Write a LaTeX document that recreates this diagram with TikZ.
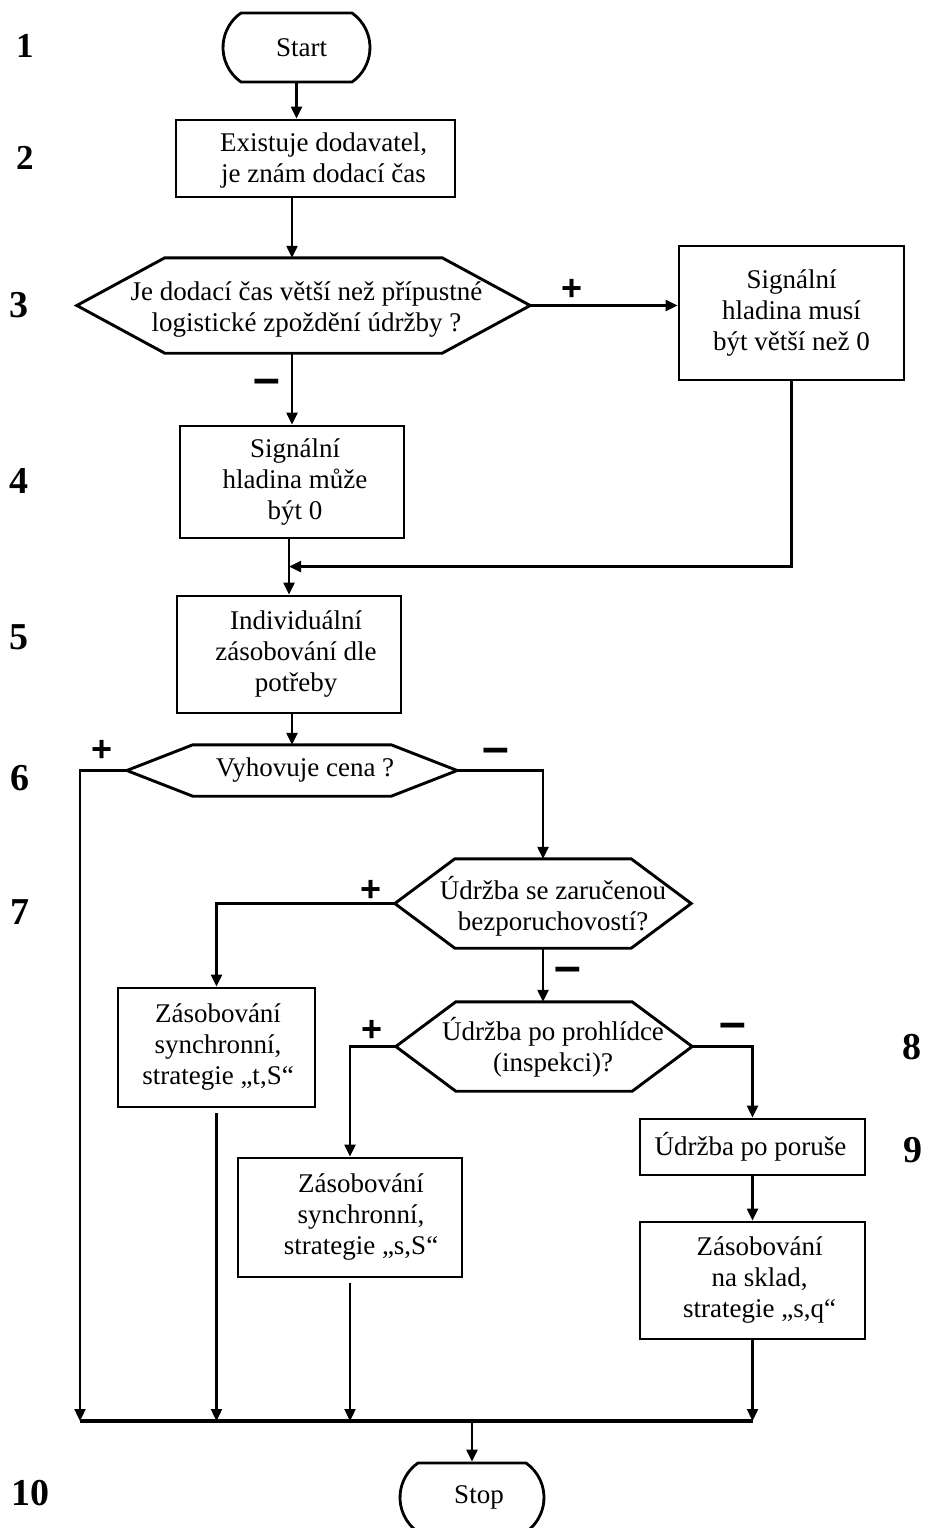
\documentclass[tikz,border=0pt]{standalone}
\usepackage{fontspec}
\setmainfont{Liberation Serif}
\newfontfamily\sansf{Liberation Sans}
\usetikzlibrary{arrows.meta,shapes.misc,calc}
\newcommand\ml[1]{\begin{tabular}{@{}c@{}}#1\end{tabular}}
\newcommand\hexdraw[2]{\draw[hexline] (#1.west) -- ([xshift=#2pt]#1.north west) -- ([xshift=-#2pt]#1.north east) -- (#1.east) -- ([xshift=-#2pt]#1.south east) -- ([xshift=#2pt]#1.south west) -- cycle;}
\begin{document}
\begin{tikzpicture}[x=1pt,y=-1pt,
  box/.style={draw, line width=2.9pt, inner sep=0pt, rectangle},
  term/.style={draw, line width=2.8pt, inner sep=0pt, rounded rectangle, rounded rectangle arc length=110},
  hexbase/.style={inner sep=0pt, rectangle},
  txt/.style={font=\fontsize{27}{31}\selectfont, inner sep=0pt},
  conn/.style={line width=2.3pt, -{Triangle[length=12pt,width=11pt]}},
  busline/.style={line width=3.5pt},
  num/.style={font=\fontsize{38}{38}\selectfont\bfseries, inner sep=0pt},
  numsm/.style={font=\fontsize{35}{35}\selectfont\bfseries, inner sep=0pt},
  pm/.style={font=\sansf\bfseries\fontsize{36}{36}\selectfont, inner sep=0pt, anchor=base},
  mn/.style={font=\sansf\bfseries\fontsize{48}{48}\selectfont, inner sep=0pt, anchor=base},
  hexline/.style={line width=2.9pt, line join=miter}
]
\useasboundingbox (0,0) rectangle (926,1528);

% row numbers
\node[numsm] (n1) at (25,46) {1};
\node[numsm] (n2) at (25,158) {2};
\node[num] (n3) at (19,305) {3};
\node[num] (n4) at (19,481) {4};
\node[num] (n5) at (19,637) {5};
\node[num] (n6) at (20,778) {6};
\node[num] (n7) at (20,912) {7};
\node[num] (n8) at (912,1047) {8};
\node[num] (n9) at (913,1150) {9};
\node[num] (n10) at (31,1493) {10};

% shapes
\node[term, minimum width=147pt, minimum height=69pt,
  label={[txt,xshift=5pt]center:Start}] (start) at (296.5,47.5) {};
\node[box, minimum width=279pt, minimum height=77pt,
  label={[txt,xshift=8pt,yshift=-2pt]center:{\ml{Existuje dodavatel,\\je znám dodací čas}}}] (b2) at (315.5,158.5) {};
\node[hexbase, minimum width=453pt, minimum height=95pt,
  label={[txt,xshift=3pt,yshift=-4pt]center:{\ml{Je dodací čas větší než přípustné\\logistické zpoždění údržby ?}}}] (d3) at (303.5,305.5) {};
\hexdraw{d3}{88}
\node[box, minimum width=225pt, minimum height=134pt,
  label={[txt]center:{\ml{Signální\\hladina musí\\být větší než 0}}}] (b3r) at (791.5,313) {};
\node[box, minimum width=224pt, minimum height=112pt,
  label={[txt,xshift=3pt]center:{\ml{Signální\\hladina může\\být 0}}}] (b4) at (292,482) {};
\node[box, minimum width=224pt, minimum height=117pt,
  label={[txt,xshift=7pt]center:{\ml{Individuální\\zásobování dle\\potřeby}}}] (b5) at (289,654.5) {};
\node[hexbase, minimum width=330pt, minimum height=51pt,
  label={[txt,xshift=13pt]center:{Vyhovuje cena ?}}] (d6) at (292,770.5) {};
\hexdraw{d6}{66}
\node[hexbase, minimum width=296pt, minimum height=89pt,
  label={[txt,xshift=10pt,yshift=-5pt]center:{\ml{Údržba se zaručenou\\bezporuchovostí?}}}] (d7) at (543,903.5) {};
\hexdraw{d7}{60}
\node[box, minimum width=197pt, minimum height=119pt,
  label={[txt,xshift=1.5pt]center:{\ml{Zásobování\\synchronní,\\strategie „t,S“}}}] (bts) at (216.5,1047.5) {};
\node[hexbase, minimum width=296pt, minimum height=89pt,
  label={[txt,xshift=9pt,yshift=-3pt]center:{\ml{Údržba po prohlídce\\(inspekci)?}}}] (d8) at (544,1046.5) {};
\hexdraw{d8}{60}
\node[box, minimum width=224pt, minimum height=119pt,
  label={[txt,xshift=11pt]center:{\ml{Zásobování\\synchronní,\\strategie „s,S“}}}] (bss) at (350,1217.5) {};
\node[box, minimum width=225pt, minimum height=56pt,
  label={[txt,xshift=-2pt]center:{Údržba po poruše}}] (bpor) at (752.5,1147) {};
\node[box, minimum width=225pt, minimum height=117pt,
  label={[txt,xshift=7pt]center:{\ml{Zásobování\\na sklad,\\strategie „s,q“}}}] (bsq) at (752.5,1280.5) {};
\node[term, minimum width=144pt, minimum height=69pt,
  label={[txt,xshift=7pt]center:Stop}] (stop) at (472,1497.5) {};

% helper coordinates
\coordinate (join) at ($(b5.north)+(0,-28)$);
\coordinate (busL) at (80,1421);
\coordinate (busR) at (752.5,1421);

% connectors
\draw[conn] (start.south) -- (start.south |- b2.north);
\draw[conn] (b4.north |- b2.south) -- (b4.north |- d3.north);
\draw[conn] (d3.east) -- (d3.east -| b3r.west);
\draw[conn] (b4.north |- d3.south) -- (b4.north);
\draw[conn] (b3r.south) |- (join);
\draw[conn] (b5.north |- b4.south) -- (b5.north);
\draw[conn] (d6.north |- b5.south) -- (d6.north);
\draw[conn] (d6.west) -| (busL);
\draw[conn] (d6.east) -| (d7.north);
\draw[conn] (d7.west) -| (bts.north);
\draw[conn] (d7.south) -- (d7.south |- d8.north);
\draw[conn] (d8.west) -| (bss.north);
\draw[conn] (d8.east) -| (bpor.north);
\draw[conn] (bpor.south) -- (bsq.north);
\draw[conn] ([yshift=-5pt]bts.south) -- (bts.south |- busL);
\draw[conn] ([yshift=-5pt]bss.south) -- (bss.south |- busL);
\draw[conn] (bsq.south) -- (bsq.south |- busL);
\draw[busline] (busL) -- (busR);
\draw[conn] (stop.north |- busL) -- (stop.north);

% branch labels
\node[pm] (p3) at (572,300) {+};
\node[mn] (m3) at (267,394) {–};
\node[pm] (p6) at (102,761) {+};
\node[mn] (m6) at (496,763) {–};
\node[pm] (p7) at (371,901) {+};
\node[mn] (m7) at (568,982) {–};
\node[pm] (p8) at (372,1041) {+};
\node[mn] (m8) at (733,1038) {–};
\end{tikzpicture}
\end{document}
